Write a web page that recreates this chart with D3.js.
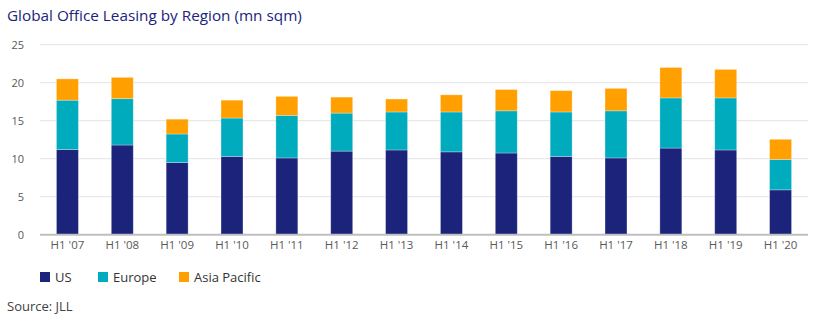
<!DOCTYPE html>
<html><head><meta charset="utf-8">
<script src="https://cdn.jsdelivr.net/npm/d3@7"></script>
<style>body{margin:0;background:#fff;font-family:"Open Sans",Lato,sans-serif;}</style>
</head><body><svg id="c" width="830" height="326"></svg>
<script>
const categories = ["H1 '07","H1 '08","H1 '09","H1 '10","H1 '11","H1 '12","H1 '13","H1 '14","H1 '15","H1 '16","H1 '17","H1 '18","H1 '19","H1 '20"];
const us     = [11.2, 11.8, 9.5, 10.3, 10.1, 11.0, 11.15, 10.9, 10.75, 10.3, 10.1, 11.4, 11.15, 5.9];
const europe = [6.5, 6.1, 3.75, 5.05, 5.6, 5.0, 5.0, 5.25, 5.55, 5.85, 6.2, 6.6, 6.85, 4.0];
const asiaPacific = [2.8, 2.8, 1.95, 2.35, 2.5, 2.1, 1.7, 2.25, 2.8, 2.8, 2.95, 4.0, 3.75, 2.65];
const yTicks = [0, 5, 10, 15, 20, 25];
const seriesNames = ["US", "Europe", "Asia Pacific"];
const colors = ["#1b237b", "#00abbd", "#ffa000"];

const svg = d3.select("#c");
const m = {left: 40, right: 22, top: 44.7, bottom: 91.3};
const W = 830, H = 326;
const x = d3.scaleBand().domain(categories).range([m.left, W - m.right]).paddingInner(0.6).paddingOuter(0.3);
const y = d3.scaleLinear().domain([0, 25]).range([H - m.bottom, m.top]);

svg.append("text").attr("x", 7).attr("y", 21).attr("fill", "#1b237b")
  .style("font-size", "15.3px").text("Global Office Leasing by Region (mn sqm)");

// gridlines
svg.append("g").selectAll("line").data(yTicks.filter(d => d > 0)).join("line")
  .attr("x1", m.left).attr("x2", W - m.right)
  .attr("y1", d => y(d)).attr("y2", d => y(d))
  .attr("stroke", "#e3e3e3").attr("stroke-width", 1);

// y labels
svg.append("g").selectAll("text").data(yTicks).join("text")
  .attr("x", 24).attr("y", d => y(d) + 4).attr("text-anchor", "end")
  .attr("fill", "#595959").style("font-size", "11px").text(d => d);

const table = categories.map((c, i) => ({cat: c, US: us[i], Europe: europe[i], "Asia Pacific": asiaPacific[i]}));
const stack = d3.stack().keys(seriesNames)(table);

svg.append("g").selectAll("g").data(stack).join("g")
  .attr("fill", (d, i) => colors[i])
  .selectAll("rect").data(d => d).join("rect")
  .attr("x", d => x(d.data.cat)).attr("width", x.bandwidth())
  .attr("y", d => y(d[1])).attr("height", d => y(d[0]) - y(d[1]))
  .attr("stroke", "rgba(255,255,255,0.35)").attr("stroke-width", 0.8);

// baseline
svg.append("line").attr("x1", m.left).attr("x2", W - m.right)
  .attr("y1", y(0)).attr("y2", y(0)).attr("stroke", "#bfbfbf").attr("stroke-width", 2);

// x labels
svg.append("g").selectAll("text").data(categories).join("text")
  .attr("x", d => x(d) + x.bandwidth() / 2).attr("y", y(0) + 14).attr("text-anchor", "middle")
  .attr("fill", "#595959").style("font-size", "11.5px").text(d => d);

// legend
const legX = [40, 98, 179];
const lg = svg.append("g").selectAll("g").data(seriesNames).join("g")
  .attr("transform", (d, i) => `translate(${legX[i]},272)`);
lg.append("rect").attr("width", 10).attr("height", 10).attr("fill", (d, i) => colors[i]);
lg.append("text").attr("x", 15).attr("y", 10).attr("fill", "#333").style("font-size", "13px").text(d => d);

svg.append("text").attr("x", 7).attr("y", 311).attr("fill", "#404040")
  .style("font-size", "13px").text("Source: JLL");
</script></body></html>
